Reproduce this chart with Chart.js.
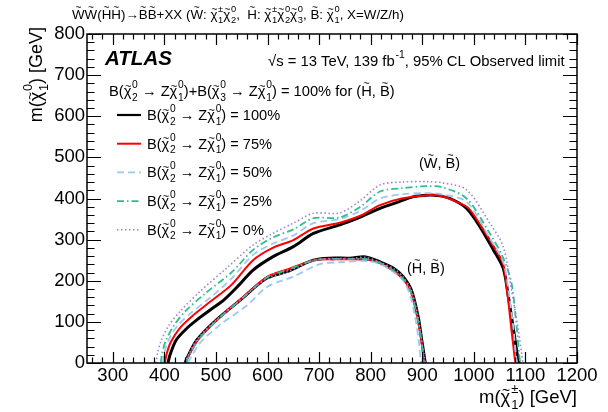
<!DOCTYPE html>
<html><head><meta charset="utf-8">
<script src="https://cdn.jsdelivr.net/npm/chart.js@4/dist/chart.umd.min.js"></script>
<style>html,body{margin:0;padding:0;background:#fff;}canvas{display:block;}</style>
</head><body>
<canvas id="c" width="608" height="412"></canvas>
<script>
// ---- data (GeV) ----
const xTicks = [300,400,500,600,700,800,900,1000,1100,1200];
const yTicks = [0,100,200,300,400,500,600,700,800];
const brLabels = ['100%','75%','50%','25%','0%'];

// Wino (W~, B~) contours: [m(chi1+-), m(chi10)]
const winoBR100 = [[407,0],[411,20],[423,56],[444,85],[463,105],[490,130],[515,153],[545,190],[572,226],[610,258],[650,283],[689,315],[740,336],[780,355],[818,376],[850,390],[882,404],[909,408],[930,407],[954,400],[986,376],[1012,331],[1038,275],[1057,230],[1067,161],[1077,80],[1085,15],[1088,0]];
const winoBR75  = [[401,0],[404,20],[412,50],[430,85],[455,115],[490,150],[530,190],[572,250],[610,280],[650,299],[689,327],[740,341],[780,358],[818,384],[860,400],[909,408],[940,405],[970,390],[990,376],[1015,331],[1040,280],[1057,240],[1065,170],[1073,80],[1079,15],[1081,0]];
const winoBR50  = [[397,0],[400,25],[408,55],[425,90],[450,120],[490,160],[530,205],[572,263],[610,290],[650,310],[689,340],[740,350],[780,370],[818,400],[860,410],[909,413],[940,410],[986,392],[1031,303],[1057,245],[1068,170],[1077,80],[1082,15],[1084,0]];
const winoBR25  = [[393,0],[396,25],[403,55],[418,90],[440,125],[480,170],[530,220],[572,275],[610,305],[650,325],[689,352],[740,354],[780,380],[818,417],[860,425],[909,430],[940,427],[986,400],[1031,315],[1057,255],[1073,194],[1082,100],[1088,20],[1090,0]];
const winoBR0   = [[384,0],[387,25],[394,55],[408,90],[430,125],[470,175],[520,230],[572,287],[610,315],[650,340],[689,364],[740,365],[780,395],[818,433],[860,440],[909,441],[940,438],[986,421],[1031,340],[1057,283],[1073,177],[1085,90],[1093,20],[1095,0]];

// Higgsino (H~, B~) contours
const higgsBR100 = [[440,0],[445,15],[463,56],[501,105],[547,153],[598,206],[637,222],[689,250],[721,255],[760,255],[790,258],[818,246],[845,230],[863,210],[879,177],[892,113],[899,56],[905,7],[906,0]];
const higgsBR75  = [[441,0],[446,15],[465,56],[502,105],[548,155],[600,210],[640,228],[690,250],[730,252],[770,252],[800,250],[830,235],[862,205],[878,172],[890,113],[898,56],[903,7],[904,0]];
const higgsBR50  = [[446,0],[452,15],[470,50],[510,95],[560,140],[600,186],[650,210],[700,240],[740,245],[790,248],[820,240],[860,205],[875,170],[886,113],[893,56],[897,7],[898,0]];
const higgsBR25  = [[442,0],[447,15],[466,56],[503,105],[549,155],[600,209],[640,227],[690,250],[730,253],[770,253],[800,251],[830,236],[862,206],[878,172],[890,113],[898,56],[903,7],[904,0]];
const higgsBR0   = [[440,0],[445,15],[463,56],[500,104],[546,152],[598,205],[637,221],[689,249],[721,254],[760,254],[790,257],[818,245],[845,229],[863,209],[879,176],[892,112],[899,55],[905,6],[906,0]];

// ---- styles ----
const FONT = '"Liberation Sans", Arial, Helvetica, sans-serif';
const styles = [
  {color:'#000000', width:3.0, dash:[]},
  {color:'#ff0000', width:2.0, dash:[]},
  {color:'#9ec8f4', width:1.8, dash:[7,4]},
  {color:'#2ebf8a', width:1.8, dash:[7,3,1.5,3]},
  {color:'#a27fe0', width:1.6, dash:[1.5,2.5]}
];
const wino = [winoBR100, winoBR75, winoBR50, winoBR25, winoBR0];
const higgs = [higgsBR100, higgsBR75, higgsBR50, higgsBR25, higgsBR0];

function ds(arr, st, lbl){
  return {label:lbl, data:arr.map(p=>({x:p[0],y:p[1]})), showLine:true, pointRadius:0,
    borderColor:st.color, borderWidth:st.width, borderDash:st.dash, fill:false, tension:0.3};
}
const datasets = [];
for (let i=4;i>=0;i--){ datasets.push(ds(wino[i], styles[i], 'W '+brLabels[i])); datasets.push(ds(higgs[i], styles[i], 'H '+brLabels[i])); }

// ---- rich text helpers ----
function chi(sup, sub){ return {t:'\u03c7', tilde:true, sup:sup, sub:sub}; }
function T(c){ return {t:c, tilde:true}; }
function richWidth(ctx, parts, fs, style){
  let w=0;
  for (const p of parts){
    if (typeof p === 'string'){ ctx.font = `${style||''} ${fs}px ${FONT}`; w += ctx.measureText(p).width; }
    else {
      ctx.font = `${style||''} ${fs}px ${FONT}`; let bw = ctx.measureText(p.t).width;
      let sw = 0; ctx.font = `${0.7*fs}px ${FONT}`;
      if (p.sup) sw = Math.max(sw, ctx.measureText(p.sup).width);
      if (p.sub) sw = Math.max(sw, ctx.measureText(p.sub).width);
      w += bw + (sw? sw+0.05*fs:0);
    }
  }
  return w;
}
function drawRich(ctx, x, y, parts, fs, style){
  ctx.textAlign='left'; ctx.textBaseline='alphabetic'; ctx.fillStyle='#000';
  for (const p of parts){
    ctx.font = `${style||''} ${fs}px ${FONT}`;
    if (typeof p === 'string'){ ctx.fillText(p, x, y); x += ctx.measureText(p).width; continue; }
    const bw = ctx.measureText(p.t).width;
    ctx.fillText(p.t, x, y);
    if (p.tilde){
      const isCap = p.t !== '\u03c7';
      const ts = fs*0.75;
      ctx.font = `${ts}px ${FONT}`;
      const tw = ctx.measureText('~').width;
      const centerUp = isCap ? 0.86*fs : 0.66*fs;
      ctx.fillText('~', x + bw/2 - tw/2 + (isCap?0:0.04*fs), y - (centerUp - 0.30*ts));
    }
    let sw=0;
    if (p.sup || p.sub){
      ctx.font = `${0.7*fs}px ${FONT}`;
      const xs = x + bw + 0.05*fs;
      if (p.sup){ ctx.fillText(p.sup, xs, y - 0.55*fs); sw=Math.max(sw,ctx.measureText(p.sup).width); }
      if (p.sub){ ctx.fillText(p.sub, xs, y + 0.32*fs); sw=Math.max(sw,ctx.measureText(p.sub).width); }
      x += bw + sw + 0.05*fs;
    } else x += bw;
  }
  return x;
}
function drawFit(ctx, x, y, parts, fs, targetW, style){
  const w = richWidth(ctx, parts, fs, style);
  const f = fs * targetW / w;
  return drawRich(ctx, x, y, parts, f, style);
}

// ---- plugin: frame, inward ticks, annotations, legend ----
const deco = {
  id:'deco',
  afterDatasetsDraw(chart){
    const ctx = chart.ctx, xs = chart.scales.x, ys = chart.scales.y;
    const L = chart.chartArea.left, R = chart.chartArea.right, Tp = chart.chartArea.top, B = chart.chartArea.bottom;
    ctx.save();
    ctx.strokeStyle='#000'; ctx.lineWidth=1.5; ctx.setLineDash([]);
    ctx.strokeRect(L, Tp, R-L, B-Tp);
    ctx.lineWidth=1.2;
    ctx.beginPath();
    for (let v=260; v<=1200; v+=20){
      const px = Math.round(xs.getPixelForValue(v))+0.5;
      const major = xTicks.includes(v);
      const len = major ? 11 : 5.5;
      ctx.moveTo(px, B); ctx.lineTo(px, B-len);
      ctx.moveTo(px, Tp); ctx.lineTo(px, Tp+len);
    }
    for (let v=0; v<=800; v+=20){
      const py = Math.round(ys.getPixelForValue(v))+0.5;
      const major = yTicks.includes(v);
      const len = major ? 14 : 7.5;
      ctx.moveTo(L, py); ctx.lineTo(L+len, py);
      ctx.moveTo(R, py); ctx.lineTo(R-len, py);
    }
    ctx.stroke();

    // title
    drawFit(ctx, 72, 19, [T('W'),T('W'),'(',T('H'),T('H'),')\u2192',T('B'),T('B'),'+XX (',T('W'),': ',chi('\u00b1','1'),chi('0','2'),',  ',T('H'),': ',chi('\u00b1','1'),chi('0','2'),chi('0','3'),', ',T('B'),': ',chi('0','1'),', X=W/Z/h)'], 13, 332);

    // ATLAS
    ctx.font = `italic bold 18px ${FONT}`;
    const aw = ctx.measureText('ATLAS').width;
    drawRich(ctx, 105, 65, ['ATLAS'], 18*67/aw, 'italic bold');
    // sqrt s
    drawFit(ctx, 268, 66, ['\u221as = 13 TeV, 139 fb',{t:'', sup:'-1'},', 95% CL Observed limit'], 12.5, 297);
    // heading
    drawFit(ctx, 109, 96, ['B(',chi('0','2'),' \u2192 Z',chi('0','1'),')+B(',chi('0','3'),' \u2192 Z',chi('0','1'),') = 100% for (',T('H'),', ',T('B'),')'], 14, 286);

    // legend
    const ly0 = 115, dy = 28.7;
    for (let i=0;i<5;i++){
      const yy = ly0 + i*dy;
      const st = styles[i];
      ctx.strokeStyle = st.color; ctx.lineWidth = Math.min(st.width, 2.2); ctx.setLineDash(st.dash);
      ctx.beginPath(); ctx.moveTo(117, yy); ctx.lineTo(141, yy); ctx.stroke();
      ctx.setLineDash([]);
      const parts = ['B(',chi('0','2'),' \u2192 Z',chi('0','1'),') = '+brLabels[i]];
      drawRich(ctx, 147, yy+5, parts, 14.6);
    }
    // region labels
    drawRich(ctx, 419, 168, ['(',T('W'),', ',T('B'),')'], 14.5);
    drawRich(ctx, 407, 273, ['(',T('H'),', ',T('B'),')'], 14.5);

    // axis titles
    const xw = richWidth(ctx, ['m(',chi('\u00b1','1'),') [GeV]'], 18.5);
    drawRich(ctx, 577 - xw, 403, ['m(',chi('\u00b1','1'),') [GeV]'], 18.5);
    ctx.save();
    ctx.translate(42, 27);
    ctx.rotate(-Math.PI/2);
    const yw = richWidth(ctx, ['m(',chi('0','1'),') [GeV]'], 18);
    drawRich(ctx, -yw, 0, ['m(',chi('0','1'),') [GeV]'], 18);
    ctx.restore();
    ctx.restore();
  }
};

new Chart(document.getElementById('c'), {
  type:'scatter',
  data:{datasets},
  options:{
    responsive:false, animation:false, devicePixelRatio:1,
    layout:{padding:{top:34, right:31, left:0, bottom:0}},
    plugins:{legend:{display:false}, tooltip:{enabled:false}, title:{display:false}},
    scales:{
      x:{type:'linear', min:250, max:1200,
        afterBuildTicks:s=>{ s.ticks = xTicks.map(v=>({value:v})); },
        afterFit:s=>{ s.height = 49; },
        grid:{display:false, drawTicks:false}, border:{display:false},
        ticks:{font:{family:FONT, size:18.5}, color:'#000', padding:2, maxRotation:0, autoSkip:false, callback:v=>String(v)}},
      y:{type:'linear', min:0, max:800,
        afterBuildTicks:s=>{ s.ticks = yTicks.map(v=>({value:v})); },
        afterFit:s=>{ s.width = 87; },
        grid:{display:false, drawTicks:false}, border:{display:false},
        ticks:{font:{family:FONT, size:18.5}, color:'#000', padding:2, autoSkip:false, callback:v=>String(v)}}
    }
  },
  plugins:[deco]
});
</script>
</body></html>
